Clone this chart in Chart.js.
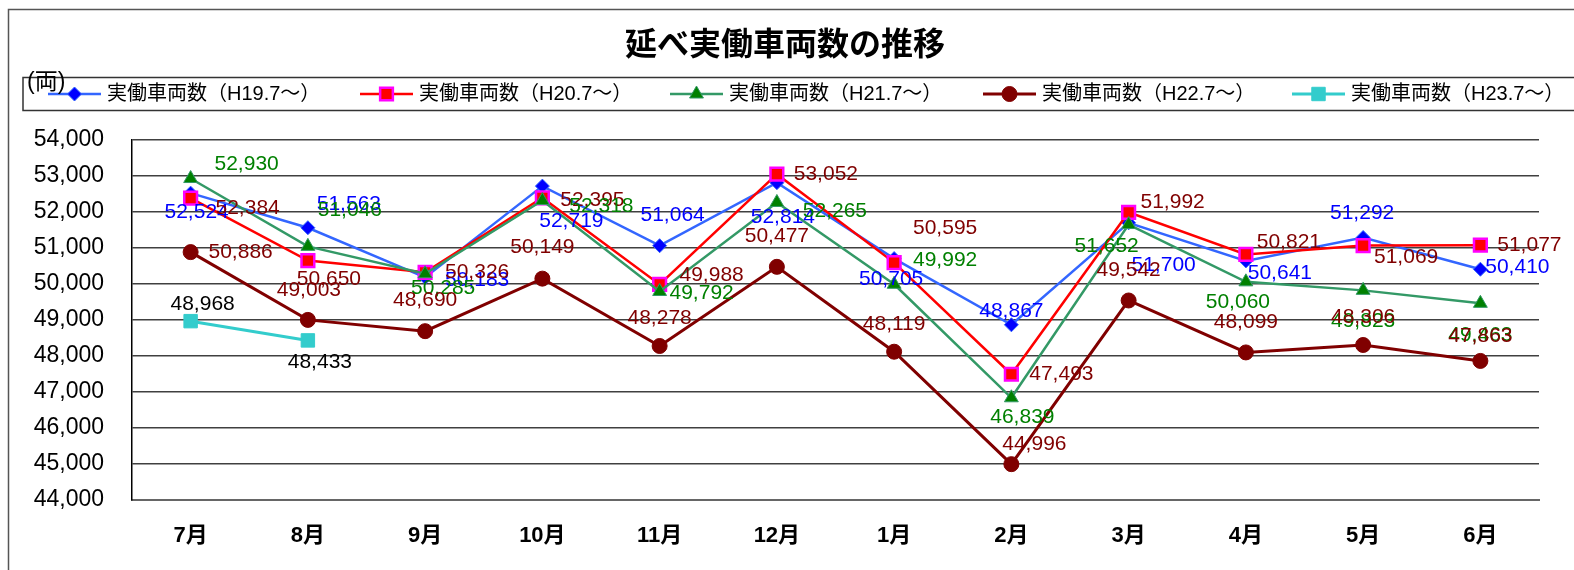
<!DOCTYPE html>
<html>
<head>
<meta charset="utf-8">
<script src="https://cdn.jsdelivr.net/npm/chart.js@4.4.1/dist/chart.umd.min.js"></script>
<style>
  html, body { margin: 0; padding: 0; background: #fff; }
  canvas { display: block; }
</style>
</head>
<body>
<canvas id="lineChart" width="1574" height="570"></canvas>
<script>
const months = ['7月', '8月', '9月', '10月', '11月', '12月', '1月', '2月', '3月', '4月', '5月', '6月'];
const seriesNames = ['実働車両数（H19.7～）', '実働車両数（H20.7～）', '実働車両数（H21.7～）', '実働車両数（H22.7～）', '実働車両数（H23.7～）'];
const h19 = [52524, 51563, 50183, 52719, 51064, 52814, 50705, 48867, 51700, 50641, 51292, 50410];
const h20 = [52384, 50650, 50326, 52395, 49988, 53052, 50595, 47493, 51992, 50821, 51069, 51077];
const h21 = [52930, 51046, 50285, 52318, 49792, 52265, 49992, 46839, 51652, 50060, 49823, 49463];
const h22 = [50886, 49003, 48690, 50149, 48278, 50477, 48119, 44996, 49542, 48099, 48306, 47863];
const h23 = [48968, 48433, null, null, null, null, null, null, null, null, null, null];
const yTicks = [44000, 45000, 46000, 47000, 48000, 49000, 50000, 51000, 52000, 53000, 54000];
const title = '延べ実働車両数の推移';
const unit = '(両)';

// where each value label sits, relative to its point (px)
const labelOffsets = [
  [[6,19],[41,-24],[52,3],[29,35],[13,-30],[6,35],[-3,21],[0,-14],[35,42],[34,12],[-1,-24],[37,-2]],
  [[57,10],[21,19],[52,0],[50,2],[52,-9],[49,0],[51,-34],[50,0],[44,-10],[43,-12],[43,12],[49,0]],
  [[56,-14],[42,-36],[18,14],[59,6],[42,2],[58,9],[51,-24],[11,19],[-22,22],[-8,20],[0,31],[0,32]],
  [[50,0],[1,-30],[0,-31],[0,-31],[0,-28],[0,-31],[0,-28],[23,-20],[0,-30],[0,-30],[0,-28],[0,-25]],
  [[12,-17],[12,22]]
];
const labelColors = ['#0000FF', '#800000', '#008000', '#800000', '#000000'];
const legendX = [48, 360, 670, 983, 1292];

const LATIN = "'Liberation Sans', 'Noto Sans CJK JP', sans-serif";
const CJK = "'Noto Sans CJK JP', sans-serif";

function fmt(v) {
  return String(v).replace(/\B(?=(\d{3})+(?!\d))/g, ',');
}

const decorPlugin = {
  id: 'decor',
  beforeDraw(chart) {
    const ctx = chart.ctx;
    ctx.save();
    ctx.fillStyle = '#fff';
    ctx.fillRect(0, 0, chart.width, chart.height);
    ctx.strokeStyle = '#555';
    ctx.lineWidth = 1.5;
    ctx.strokeRect(8.5, 9.5, 1700, 700);
    // title
    ctx.fillStyle = '#000';
    ctx.font = 'bold 32px ' + CJK;
    ctx.textAlign = 'center';
    ctx.textBaseline = 'middle';
    ctx.fillText(title, 785, 43);
    // legend box
    ctx.strokeStyle = '#333';
    ctx.lineWidth = 1.5;
    ctx.strokeRect(23, 77.5, 1700, 33);
    const ly = 94;
    chart.data.datasets.forEach((ds, i) => {
      const x = legendX[i];
      ctx.strokeStyle = ds.borderColor;
      ctx.lineWidth = ds.borderWidth;
      ctx.beginPath();
      ctx.moveTo(x, ly);
      ctx.lineTo(x + 53, ly);
      ctx.stroke();
      ctx.fillStyle = ds.pointBackgroundColor;
      ctx.strokeStyle = ds.pointBorderColor;
      ctx.lineWidth = ds.pointBorderWidth;
      Chart.helpers.drawPoint(ctx, {
        pointStyle: ds.pointStyle,
        radius: ds.pointRadius,
        borderWidth: ds.pointBorderWidth,
        rotation: 0
      }, x + 26.5, ly);
      ctx.fillStyle = '#000';
      ctx.font = '20px ' + LATIN;
      ctx.textAlign = 'left';
      ctx.fillText(ds.label, x + 59, ly);
    });
    ctx.font = '23px ' + LATIN;
    ctx.fillText(unit, 27, 83);
    ctx.restore();
  },
  afterDatasetsDraw(chart) {
    const ctx = chart.ctx;
    ctx.save();
    ctx.font = '21px ' + LATIN;
    ctx.textAlign = 'center';
    ctx.textBaseline = 'middle';
    chart.data.datasets.forEach((ds, i) => {
      const meta = chart.getDatasetMeta(i);
      ctx.fillStyle = labelColors[i];
      meta.data.forEach((pt, j) => {
        const v = ds.data[j];
        if (v === null || v === undefined) return;
        const off = labelOffsets[i][j] || [0, -25];
        ctx.fillText(fmt(v), pt.x + off[0], pt.y + off[1]);
      });
    });
    ctx.restore();
  }
};

const seriesData = [h19, h20, h21, h22, h23];
const styles = [
  { line: '#3366FF', bg: '#0000FF', bd: '#3366FF', shape: 'rectRot', r: 7, bw: 1, lw: 2.5 },
  { line: '#FF0000', bg: '#FF0000', bd: '#FF00FF', shape: 'rect', r: 9, bw: 2.5, lw: 2.5 },
  { line: '#339966', bg: '#008000', bd: '#339966', shape: 'triangle', r: 8, bw: 1, lw: 2.5 },
  { line: '#800000', bg: '#800000', bd: '#800000', shape: 'circle', r: 7.5, bw: 1, lw: 3 },
  { line: '#33CCCC', bg: '#33CCCC', bd: '#33CCCC', shape: 'rect', r: 9.5, bw: 1, lw: 3 }
];

const datasets = seriesData.map((d, i) => ({
  label: seriesNames[i],
  data: d,
  borderColor: styles[i].line,
  borderWidth: styles[i].lw,
  pointStyle: styles[i].shape,
  pointRadius: styles[i].r,
  pointHoverRadius: styles[i].r,
  pointBackgroundColor: styles[i].bg,
  pointBorderColor: styles[i].bd,
  pointBorderWidth: styles[i].bw,
  tension: 0,
  fill: false,
  spanGaps: false,
  clip: false,
  order: 5 - i
}));

new Chart(document.getElementById('lineChart'), {
  type: 'line',
  data: { labels: months, datasets: datasets },
  plugins: [decorPlugin],
  options: {
    responsive: false,
    animation: false,
    devicePixelRatio: 1,
    layout: { padding: { top: 140, right: 35, left: 0, bottom: 0 } },
    plugins: {
      legend: { display: false },
      title: { display: false },
      tooltip: { enabled: false }
    },
    scales: {
      x: {
        offset: true,
        grid: { display: false },
        border: { display: true, color: '#666', width: 2 },
        ticks: {
          color: '#000',
          padding: 15,
          font: { family: LATIN, size: 22, weight: 'bold' }
        },
        afterFit(s) { s.height = 70; }
      },
      y: {
        min: 44000,
        max: 54000,
        afterBuildTicks(s) { s.ticks = yTicks.map(v => ({ value: v })); },
        grid: { color: '#404040', lineWidth: 1.5, drawTicks: false },
        border: { display: true, color: '#000', width: 1.5 },
        ticks: {
          color: '#000',
          padding: 28,
          font: { family: LATIN, size: 23 },
          callback: v => fmt(v)
        },
        afterFit(s) { s.width = 132; }
      }
    }
  }
});
</script>
</body>
</html>
